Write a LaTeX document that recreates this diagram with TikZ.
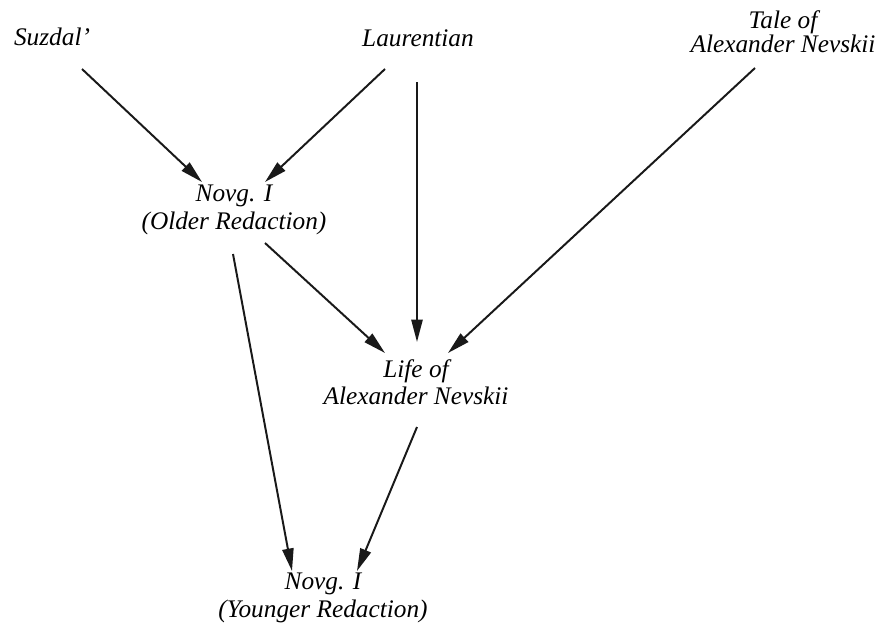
\documentclass[tikz,border=0pt]{standalone}
\usepackage{fontspec}
\setmainfont{Liberation Serif}
\usetikzlibrary{arrows.meta, positioning, calc}

\begin{document}
\begin{tikzpicture}[
  x=0.025cm, y=-0.025cm,
  src/.style={
    font=\fontsize{18}{19.5}\selectfont\itshape, align=center, inner sep=0pt,
  },
  flow/.style={
    -{Triangle[length=16pt, width=8pt]}, line width=1.4pt, black!90,
  },
]
  \useasboundingbox (0,0) rectangle (883,625);

  % Sources
  \node[src, anchor=base] (suzdal) at (52,45) {Suzdal'};
  \node[src, anchor=base] (laur) at (418,46) {Laurentian};
  \node[src, font=\fontsize{18}{15.5}\selectfont\itshape] (tale) at (783,32) {Tale of\\Alexander Nevskii};

  % Redactions
  \node[src] (older) at (234,210) {Novg. I\\(Older Redaction)};
  \node[src] (life) at (416,382) {Life of\\Alexander Nevskii};
  \node[src] (younger) at (323,598) {Novg. I\\(Younger Redaction)};

  % Arrows
  \draw[flow] ($(suzdal.base)+(30,24)$) -- ($(older)+(-32,-28)$);
  \draw[flow] ($(laur.base)+(-33,23)$) -- ($(older)+(31,-28)$);
  \draw[flow] ($(laur.base)+(-1,36)$) -- ($(life)+(1,-40)$);
  \draw[flow] ($(tale)+(-28,36)$) -- ($(life)+(32,-29)$);
  \draw[flow] ($(older)+(31,33)$) -- ($(life)+(-31,-29)$);
  \draw[flow] ($(older)+(-1,44)$) -- ($(younger)+(-31,-27)$);
  \draw[flow] ($(life)+(1,45)$) -- ($(younger)+(34,-27)$);

\end{tikzpicture}
\end{document}
